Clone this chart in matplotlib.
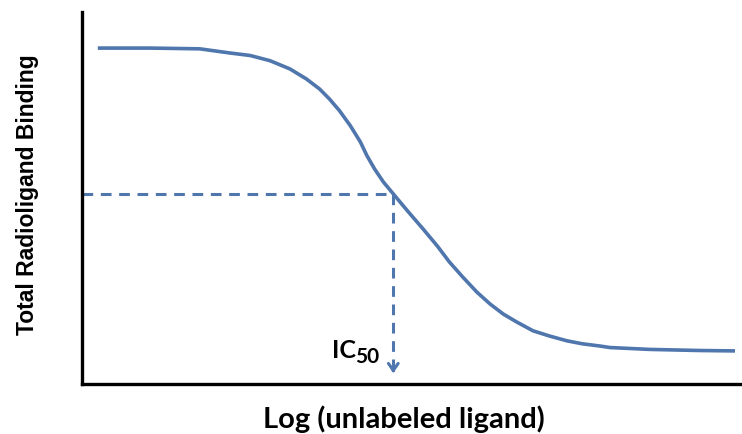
import numpy as np
import matplotlib
matplotlib.use('Agg')
import matplotlib.pyplot as plt

# curve: log concentration vs total binding (%)
log_conc = [-10.84, -10.38, -9.93, -9.66, -9.47, -9.29, -9.11, -8.96, -8.84,
            -8.75, -8.66, -8.56, -8.47, -8.41, -8.34, -8.26, -8.17, -8.04,
            -7.90, -7.77, -7.66, -7.54, -7.41, -7.29, -7.17, -7.05, -6.90,
            -6.75, -6.59, -6.45, -6.29, -6.20, -5.84, -5.38, -5.08]
binding = [90.3, 90.3, 90.1, 89.0, 88.3, 86.9, 84.7, 82.0, 79.3,
           76.6, 73.5, 69.4, 65.1, 61.4, 57.8, 54.3, 51.1, 46.5,
           41.7, 37.1, 32.8, 28.8, 24.7, 21.5, 18.8, 16.7, 14.3,
           12.9, 11.6, 10.8, 10.2, 9.8, 9.3, 9.0, 8.9]
ic50_x = -8.17
ic50_y = 51.1
arrow_end = 2.2

blue = '#4f76ad'

fig = plt.figure(figsize=(7.42, 4.35), dpi=100)
ax = fig.add_axes([82/742, 1 - 385/435, 1 - 82/742, (385 - 13)/435])

ax.plot(log_conc, binding, color=blue, lw=2.6, solid_joinstyle='round')

# dashed guide lines
ax.plot([-11, ic50_x], [ic50_y, ic50_y], color=blue, lw=2.2, ls=(0, (3.5, 2.5)))
ax.plot([ic50_x, ic50_x], [ic50_y, arrow_end + 1.5], color=blue, lw=2.2, ls=(0, (3.5, 2.5)))
ax.annotate('', xy=(ic50_x, arrow_end), xytext=(ic50_x, arrow_end + 2.5),
            arrowprops=dict(arrowstyle='->,head_length=0.5,head_width=0.35',
                            color=blue, lw=2.2))

# IC50 label
ax.text(ic50_x - 0.34, 7.2, 'IC', ha='right', va='baseline',
        fontsize=18, fontweight='bold', family='Lato')
ax.text(ic50_x - 0.35, 5.8, '50', ha='left', va='baseline',
        fontsize=15, fontweight='bold', family='Lato')

ax.set_xlim(-11, -5)
ax.set_ylim(0, 100)
ax.set_xticks([])
ax.set_yticks([])
for s in ['top', 'right']:
    ax.spines[s].set_visible(False)
for s in ['left', 'bottom']:
    ax.spines[s].set_linewidth(2.4)
    ax.spines[s].set_color('black')

fig.text(404/742, 1 - 419/435, 'Log (unlabeled ligand)', ha='center', va='center',
         fontsize=21, fontweight='bold', family='Lato')
fig.text(28/742, 1 - 195/435, 'Total Radioligand Binding', ha='center', va='center',
         rotation=90, fontsize=16.5, fontweight='bold',
         family=['Liberation Sans Narrow', 'Liberation Sans'])

fig.savefig('out.png', dpi=100)
